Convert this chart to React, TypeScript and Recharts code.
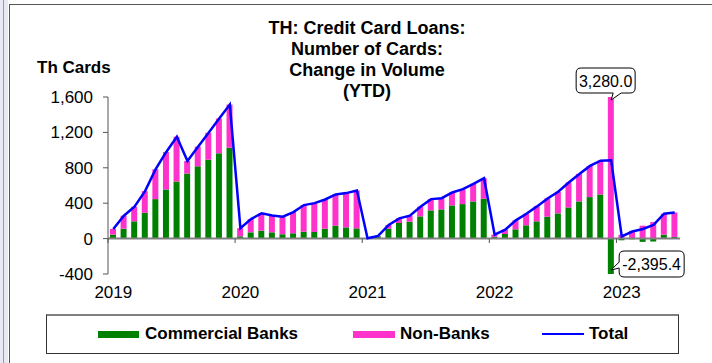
import React from "react";
import {
  ComposedChart,
  Bar,
  Line,
  XAxis,
  YAxis,
  ReferenceLine,
  ReferenceDot,
} from "recharts";

// monthly YTD change, Jan 2019 .. Jun 2023 (thousand cards)
const years = ["2019", "2020", "2021", "2022", "2023"];

const commercialBanks = [
  45, 112, 195, 292, 446, 555, 645, 735, 817, 892, 964, 1027,
  26, 71, 90, 71, 49, 60, 79, 75, 112, 146, 127, 116,
  3, 26, 112, 176, 191, 251, 319, 330, 375, 390, 420, 450,
  20, 52, 105, 150, 195, 247, 285, 352, 420, 469, 499, -2395.4,
  -19, -8, -37, -33, 45, 19,
];

const nonBanks = [
  64, 147, 165, 244, 338, 424, 506, 142, 222, 304, 393, 488,
  92, 150, 195, 191, 198, 240, 300, 326, 330, 353, 387, 428,
  2, 4, 42, 53, 68, 109, 127, 127, 146, 169, 199, 232,
  25, 49, 101, 131, 169, 207, 244, 282, 311, 352, 381, 3280.0,
  44, 88, 146, 187, 236, 276,
];

const total = [
  109, 259, 360, 536, 784, 979, 1151, 877, 1039, 1196, 1357, 1515,
  118, 221, 285, 262, 247, 300, 379, 401, 442, 499, 514, 544,
  5, 30, 154, 229, 259, 360, 446, 457, 521, 559, 619, 682,
  45, 101, 206, 281, 364, 454, 529, 634, 731, 821, 880, 884.6,
  25, 80, 109, 154, 281, 295,
];

const yTicks = [-400, 0, 400, 800, 1200, 1600];
const calloutIndex = 47; // Dec 2022

const GREEN = "#008000";
const PINK = "#FF33CC";
const BLUE = "#0000FF";
const FONT = '"Liberation Sans", Arial, sans-serif';

const data = commercialBanks.map((c, i) => ({
  x: i + 0.5,
  commercial: c,
  nonbanks: nonBanks[i],
  total: total[i],
}));

const yearStarts = years.map((_, i) => i * 12);
const yearLabelTicks = years.map((_, i) => i * 12 + 0.5);

const fmt = (v: number) =>
  v.toLocaleString("en-US", { minimumFractionDigits: 1, maximumFractionDigits: 1 });

const TopCallout = (props: any) => {
  const { cx, cy } = props;
  const tx = cx;
  const ty = cy + 3;
  const L = tx - 35, R = tx + 24, T = ty - 32, B = ty - 7, r = 5;
  const d = `M${L + r},${T} H${R - r} Q${R},${T} ${R},${T + r} V${B - r} Q${R},${B} ${R - r},${B} H${tx + 10} L${tx},${ty} L${tx + 2},${B} H${L + r} Q${L},${B} ${L},${B - r} V${T + r} Q${L},${T} ${L + r},${T} Z`;
  return (
    <g>
      <path d={d} fill="#fff" stroke="#000" strokeWidth={1} />
      <text x={(L + R) / 2} y={(T + B) / 2 + 6} textAnchor="middle" fontSize={16} fontFamily={FONT} fill="#000">
        {fmt(nonBanks[calloutIndex])}
      </text>
    </g>
  );
};

const BottomCallout = (props: any) => {
  const { cx, cy } = props;
  const tx = cx;
  const ty = cy - 4;
  const L = tx + 8, R = tx + 73, T = ty - 19, B = ty + 7, r = 5;
  const d = `M${L + r},${T} H${R - r} Q${R},${T} ${R},${T + r} V${B - r} Q${R},${B} ${R - r},${B} H${L + r} Q${L},${B} ${L},${B - r} V${ty - 2} L${tx},${ty} L${L},${ty - 8} V${T + r} Q${L},${T} ${L + r},${T} Z`;
  return (
    <g>
      <path d={d} fill="#fff" stroke="#000" strokeWidth={1} />
      <text x={(L + R) / 2} y={(T + B) / 2 + 6} textAnchor="middle" fontSize={16} fontFamily={FONT} fill="#000">
        {fmt(commercialBanks[calloutIndex])}
      </text>
    </g>
  );
};

export default function App() {
  return (
    <div style={{ position: "absolute", left: 0, top: 0, width: 712, height: 363, background: "#fff", overflow: "hidden", fontFamily: FONT }}>
      {/* frame */}
      <div style={{ position: "absolute", left: 0, top: 0, width: 8, height: 363, background: "#e9e9f5" }} />
      <div style={{ position: "absolute", left: 3, top: 0, width: 1, height: 363, background: "#9a9aa8" }} />
      <div style={{ position: "absolute", left: 9, top: 4, width: 703, height: 359, borderLeft: "1px solid #555", borderTop: "1px solid #555" }} />

      <div style={{ position: "absolute", left: 167, top: 18, width: 400, textAlign: "center", fontWeight: "bold", fontSize: 18, lineHeight: "21px", color: "#000" }}>
        TH: Credit Card Loans:<br />
        Number of Cards:<br />
        Change in Volume<br />
        (YTD)
      </div>
      <div style={{ position: "absolute", left: 37, top: 58, fontWeight: "bold", fontSize: 17, lineHeight: "20px", color: "#000" }}>
        Th Cards
      </div>

      <div style={{ position: "absolute", left: 0, top: 0 }}>
        <ComposedChart
          width={712}
          height={363}
          data={data}
          stackOffset="sign"
          margin={{ top: 97, right: 32, bottom: 59, left: 0 }}
        >
          <XAxis
            dataKey="x"
            type="number"
            domain={[0, 54]}
            ticks={yearLabelTicks}
            tickFormatter={(v: number) => years[Math.floor(v / 12)]}
            allowDataOverflow
            axisLine={false}
            tickLine={false}
            tickSize={0}
            tickMargin={12}
            height={30}
            tick={{ fill: "#000", fontSize: 17, fontFamily: FONT }}
          />
          <YAxis
            domain={[-400, 1600]}
            ticks={yTicks}
            allowDataOverflow
            width={108}
            tickFormatter={(v: number) => v.toLocaleString("en-US")}
            axisLine={{ stroke: "#555" }}
            tickLine={{ stroke: "#555" }}
            tickSize={5}
            tickMargin={10}
            tick={{ fill: "#000", fontSize: 17, fontFamily: FONT }}
          />
          <Bar dataKey="commercial" stackId="a" fill={GREEN} barSize={6} isAnimationActive={false} />
          <Bar dataKey="nonbanks" stackId="a" fill={PINK} barSize={6} isAnimationActive={false} />
          <ReferenceLine y={0} stroke="#808080" strokeWidth={2} />
          {yearStarts.map((s) => (
            <ReferenceLine
              key={s}
              segment={[{ x: s, y: 0 }, { x: s, y: -50 }]}
              stroke="#555"
              strokeWidth={1}
            />
          ))}
          <Line
            dataKey="total"
            type="linear"
            stroke={BLUE}
            strokeWidth={2.5}
            dot={false}
            isAnimationActive={false}
          />
          <ReferenceDot x={data[calloutIndex].x} y={1600} shape={TopCallout} />
          <ReferenceDot x={data[calloutIndex].x} y={-400} shape={BottomCallout} />
        </ComposedChart>
      </div>

      {/* legend */}
      <div style={{ position: "absolute", left: 46, top: 314, width: 631, height: 37, border: "1px solid #333", borderTop: "2px solid #808080", background: "#fff" }} />
      <div style={{ position: "absolute", left: 98, top: 331, width: 41, height: 7, background: GREEN }} />
      <div style={{ position: "absolute", left: 145, top: 324, fontWeight: "bold", fontSize: 17, lineHeight: "20px" }}>Commercial Banks</div>
      <div style={{ position: "absolute", left: 353, top: 331, width: 42, height: 7, background: PINK }} />
      <div style={{ position: "absolute", left: 400, top: 324, fontWeight: "bold", fontSize: 17, lineHeight: "20px" }}>Non-Banks</div>
      <div style={{ position: "absolute", left: 542, top: 333, width: 42, height: 2, background: BLUE }} />
      <div style={{ position: "absolute", left: 589, top: 324, fontWeight: "bold", fontSize: 17, lineHeight: "20px" }}>Total</div>
    </div>
  );
}
